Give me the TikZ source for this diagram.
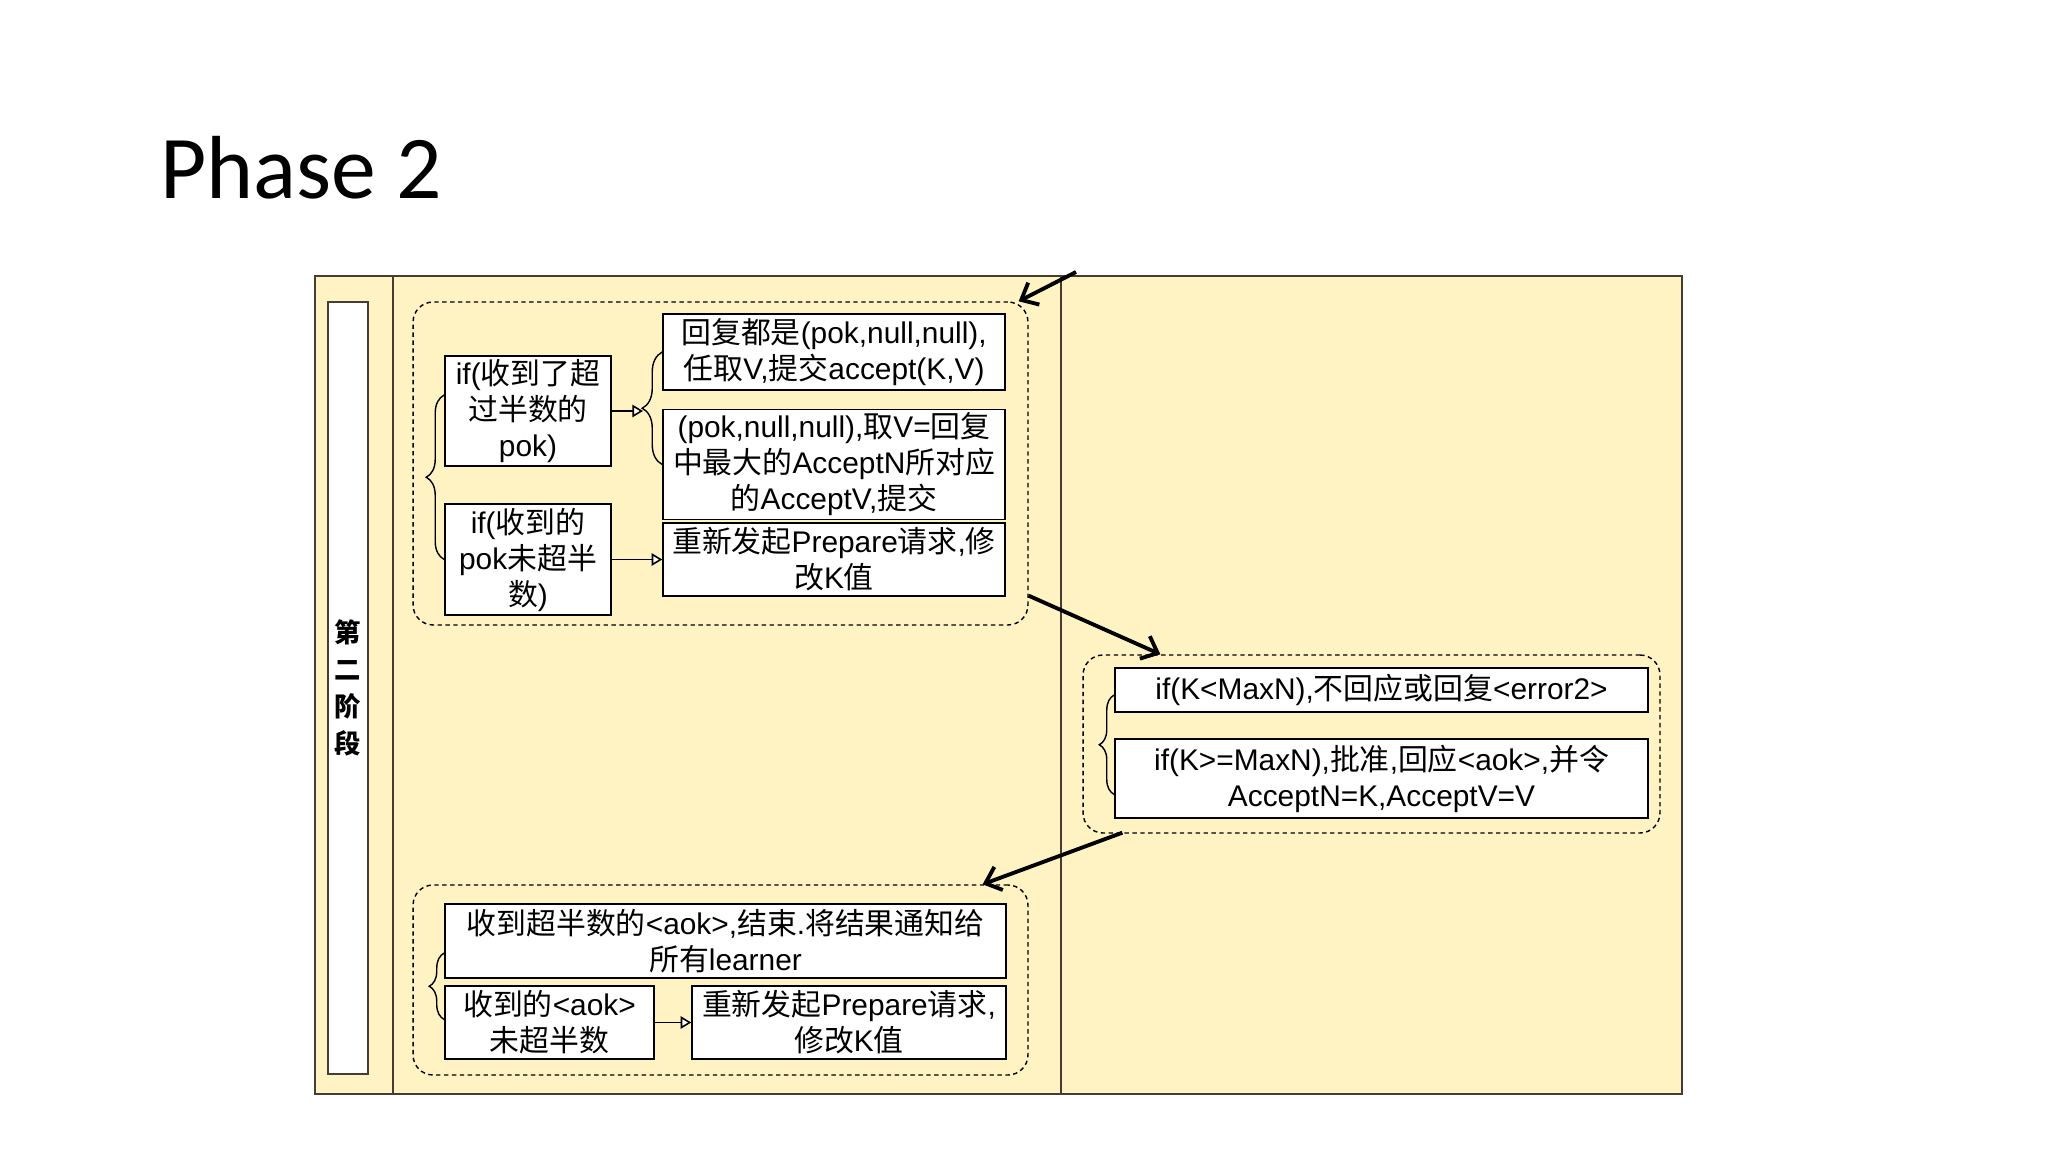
\documentclass[tikz,border=0pt]{standalone}
\usepackage{fontspec}
\setmainfont{Liberation Sans}
\newfontfamily\cjk{Noto Sans CJK SC}
\newfontfamily\titlefont{Carlito}
\newcommand{\zh}[1]{{\cjk #1}}
\usetikzlibrary{arrows.meta,decorations.pathreplacing}
\definecolor{paleyellow}{RGB}{255,243,196}
\definecolor{frameline}{RGB}{70,60,50}

\begin{document}
\begin{tikzpicture}[x=0.02cm, y=-0.02cm,
  box/.style={draw=black, line width=0.9pt, fill=white, align=center, inner sep=2pt,
    font=\fontsize{17}{20.5}\selectfont},
  group/.style={draw=black, line width=0.8pt, dash pattern=on 2.5pt off 2pt, rounded corners=0.4cm},
  curly/.style={draw=black, line width=0.8pt, decorate, decoration={brace, amplitude=#1}},
  tri/.style={draw=black, line width=0.9pt, -{Triangle[fill=white, length=6pt, width=7pt]}},
  flow/.style={draw=black, line width=2.2pt, -{Straight Barb[length=8pt, width=14pt]}}]

  % Page and swimlane frame
  \useasboundingbox[fill=white] (0,0) rectangle (2048,1152);
  \draw[frameline, line width=1.1pt, fill=paleyellow] (315,276) rectangle (1682,1094);
  \draw[frameline, line width=1.1pt] (393,276) -- (393,1094);
  \draw[frameline, line width=1.1pt] (1061,276) -- (1061,1094);

  % Title
  \node[anchor=base west, inner sep=0pt, font=\titlefont\fontsize{51}{60}\selectfont] (title) at (160,199) {Phase 2};

  % Stage label
  \node[draw=frameline, line width=1pt, fill=white, minimum width=0.8cm, minimum height=15.44cm,
        align=center, font=\cjk\bfseries\fontsize{15}{21}\selectfont] (stage) at (348,688) {第\\二\\阶\\段};

  % Dashed groups
  \node[group, minimum width=12.3cm, minimum height=6.46cm] (grp1) at (720.5,463.5) {};
  \node[group, minimum width=11.54cm, minimum height=3.56cm] (grp2) at (1371.5,744) {};
  \node[group, minimum width=12.3cm, minimum height=3.8cm] (grp3) at (720.5,980) {};

  % Proposer: answers to prepare
  \node[box, minimum width=3.32cm, minimum height=2.04cm] (A1) at (528,411)
    {if(\zh{收到了超}\\\zh{过半数的}\\pok)};
  \node[box, minimum width=3.32cm, minimum height=2.06cm] (A2) at (528,559.5)
    {if(\zh{收到的}\\pok\zh{未超半}\\\zh{数})};
  \node[box, minimum width=6.84cm, minimum height=1.52cm] (B1) at (834,352)
    {\zh{回复都是}(pok,null,null),\\\zh{任取}V,\zh{提交}accept(K,V)};
  \node[box, minimum width=6.84cm, minimum height=2.06cm] (B2) at (834,464.5)
    {(pok,null,null),\zh{取}V=\zh{回复}\\\zh{中最大的}AcceptN\zh{所对应}\\\zh{的}AcceptV,\zh{提交}};
  \node[box, minimum width=6.84cm, minimum height=1.46cm] (B3) at (834,559.5)
    {\zh{重新发起}Prepare\zh{请求},\zh{修}\\\zh{改}K\zh{值}};

  % Acceptor
  \node[box, minimum width=10.66cm, minimum height=0.88cm] (C1) at (1381.5,690)
    {if(K<MaxN),\zh{不回应或回复}<error2>};
  \node[box, minimum width=10.66cm, minimum height=1.58cm] (C2) at (1381.5,778.5)
    {if(K>=MaxN),\zh{批准},\zh{回应}<aok>,\zh{并令}\\AcceptN=K,AcceptV=V};

  % Proposer: answers to accept
  \node[box, minimum width=11.22cm, minimum height=1.48cm] (D1) at (725.5,941)
    {\zh{收到超半数的}<aok>,\zh{结束}.\zh{将结果通知给}\\\zh{所有}learner};
  \node[box, minimum width=4.18cm, minimum height=1.46cm] (D2) at (549.5,1022.5)
    {\zh{收到的}<aok>\\\zh{未超半数}};
  \node[box, minimum width=6.28cm, minimum height=1.46cm] (D3) at (849,1022.5)
    {\zh{重新发起}Prepare\zh{请求},\\\zh{修改}K\zh{值}};

  % Braces and small arrows
  \coordinate (t2) at (643,411);
  \draw[curly=0.36cm] (A2.west) -- ([yshift=0.32cm]A1.west);
  \draw[curly=0.4cm] (B2.west) -- (B1.west);
  \draw[tri] (A1.east) -- (t2);
  \draw[tri] (A2.east) -- (B3.west);
  \draw[curly=0.3cm] ([yshift=-0.32cm]C2.west) -- ([yshift=-0.1cm]C1.west);
  \draw[curly=0.3cm] ([yshift=0.06cm]D2.west) -- ([yshift=-0.24cm]D1.west);
  \draw[tri] (D2.east) -- (D3.west);

  % Flow between groups
  \coordinate (in1) at (1076,272);
  \draw[flow] (in1) -- ([shift={(-10,0)}]grp1.north east);
  \draw[flow] ([shift={(0,-30)}]grp1.south east) -- ([shift={(78,0)}]grp2.north west);
  \draw[flow] ([shift={(40,-1)}]grp2.south west) -- ([shift={(-46,0)}]grp3.north east);
\end{tikzpicture}
\end{document}
